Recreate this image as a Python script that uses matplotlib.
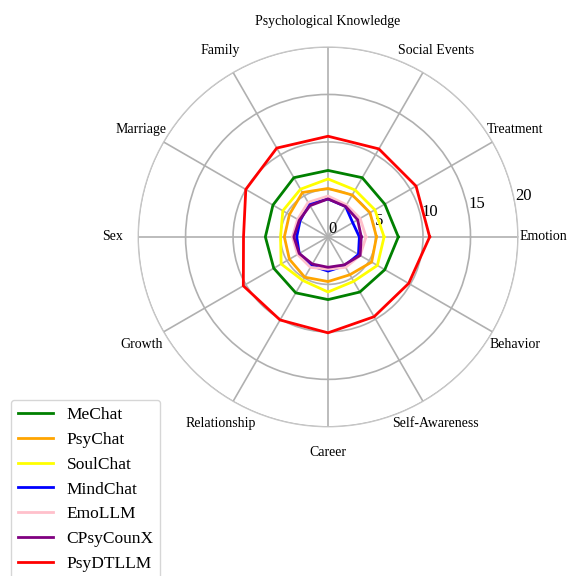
import numpy as np
import matplotlib
matplotlib.use('Agg')
import matplotlib.pyplot as plt

plt.rcParams['font.family'] = ['Liberation Serif', 'DejaVu Serif']

categories = ['Emotion', 'Treatment', 'Social Events', 'Psychological Knowledge',
              'Family', 'Marriage', 'Sex', 'Growth', 'Relationship', 'Career',
              'Self-Awareness', 'Behavior']

models = ['MeChat', 'PsyChat', 'SoulChat', 'MindChat', 'EmoLLM', 'CPsyCounX', 'PsyDTLLM']
colours = ['green', 'orange', 'yellow', 'blue', 'pink', 'purple', 'red']

MeChat = [7.4, 6.9, 7.2, 7.0, 7.2, 6.7, 6.6, 6.6, 6.8, 6.6, 6.7, 6.9]
PsyChat = [5.1, 5.1, 5.1, 5.1, 5.4, 4.7, 4.6, 4.7, 4.9, 4.7, 4.6, 5.3]
SoulChat = [5.9, 5.7, 5.7, 6.1, 5.8, 5.5, 5.0, 5.7, 5.3, 5.8, 5.4, 6.0]
MindChat = [3.3, 3.0, 3.7, 4.0, 4.0, 3.4, 3.3, 3.5, 3.5, 3.6, 3.5, 3.7]
EmoLLM = [4.0, 3.9, 3.9, 4.3, 4.2, 3.7, 3.75, 3.7, 3.7, 3.4, 3.7, 3.9]
CPsyCounX = [3.5, 3.6, 3.7, 4.0, 3.8, 3.5, 3.6, 3.5, 3.3, 3.2, 3.4, 3.9]
PsyDTLLM = [10.7, 10.7, 10.7, 10.6, 10.8, 10.0, 8.9, 10.3, 10.1, 10.1, 9.7, 9.8]

scores = [MeChat, PsyChat, SoulChat, MindChat, EmoLLM, CPsyCounX, PsyDTLLM]

angles = np.linspace(0, 2 * np.pi, len(categories), endpoint=False)
closed = np.append(angles, angles[0])

fig = plt.figure(figsize=(5.73, 5.76), dpi=100)
ax = fig.add_axes([0.241, 0.2587, 0.663, 0.66], polar=True)

for name, vals, c in zip(models, scores, colours):
    ax.plot(closed, vals + vals[:1], color=c, linewidth=2, label=name)

ax.set_ylim(0, 20)
ax.set_yticks([0, 5, 10, 15, 20])
ax.set_yticklabels(['0', '5', '10', '15', '20'], fontsize=12)
ax.set_rlabel_position(10)
ax.set_xticks(angles)
ax.set_xticklabels(categories, fontsize=10)
ax.tick_params(axis='x', pad=8)
ax.grid(color='#b0b0b0', linewidth=1.2)
ax.spines['polar'].set_color('#c8c8c8')
ax.spines['polar'].set_linewidth(0.8)

fig.legend(loc='upper left', bbox_to_anchor=(0.019, 0.3056), fontsize=12.5,
           handlelength=2, borderaxespad=0)

fig.savefig('out.png', dpi=100)
